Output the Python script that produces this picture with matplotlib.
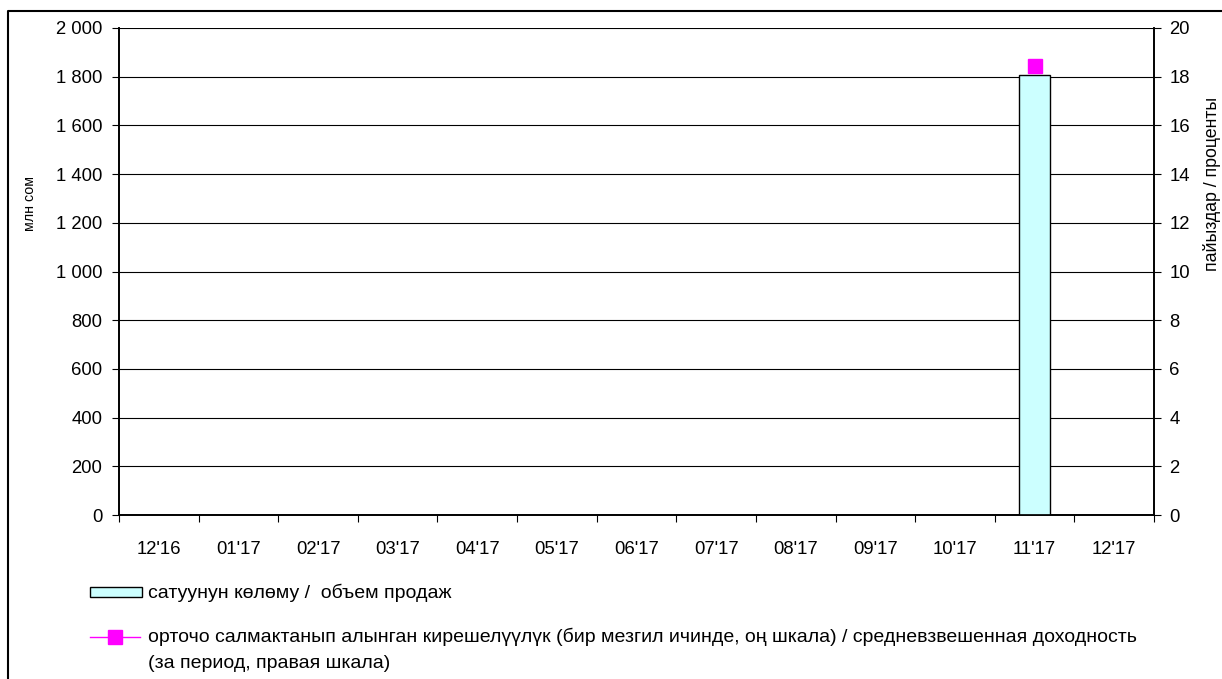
import matplotlib
matplotlib.use("Agg")
import matplotlib.pyplot as plt
import numpy as np
from matplotlib.lines import Line2D
from matplotlib.patches import Rectangle
from matplotlib.ticker import FuncFormatter, FixedLocator

plt.rcParams['font.family'] = ['Liberation Sans', 'DejaVu Sans']

# данные
months = ["12'16", "01'17", "02'17", "03'17", "04'17", "05'17", "06'17",
          "07'17", "08'17", "09'17", "10'17", "11'17", "12'17"]
sales = [0, 0, 0, 0, 0, 0, 0, 0, 0, 0, 0, 1805, 0]
yield_pct = [np.nan] * 11 + [18.45, np.nan]

lbl_bar = "сатуунун көлөму /  объем продаж"
lbl_line = ("орточо салмактанып алынган кирешелүүлүк (бир мезгил ичинде, оң шкала) / "
            "средневзвешенная доходность\n(за период, правая шкала)")

W, H = 1222, 679
fs = 13.3
fig = plt.figure(figsize=(W / 100, H / 100), dpi=100)
ax = fig.add_axes([119 / W, 1 - 515 / H, (1154 - 119) / W, (515 - 28) / H])
ax2 = ax.twinx()

x = np.arange(len(months))
ax.bar(x, sales, width=0.39, color='#CCFFFF', edgecolor='black', linewidth=1, zorder=3)
ax2.plot(x, yield_pct, color='#FF00FF', marker='s', markersize=9.5, linewidth=1, zorder=4)

ax.set_xlim(-0.5, len(months) - 0.5)
ax.set_ylim(0, 2000)
ax2.set_ylim(0, 20)
ax.set_yticks(np.arange(0, 2001, 200))
ax2.set_yticks(np.arange(0, 21, 2))
ax.yaxis.set_major_formatter(FuncFormatter(lambda v, p: f"{int(v):,}".replace(",", " ")))
ax.grid(axis='y', color='black', linewidth=0.8, zorder=0)
ax.set_axisbelow(True)

ax.set_xticks(x)
ax.set_xticklabels(months)
ax.xaxis.set_minor_locator(FixedLocator(np.arange(-0.5, len(months), 1)))
ax.tick_params(axis='x', which='major', length=0, pad=19, labelsize=fs)
ax.tick_params(axis='x', which='minor', length=5, width=0.8, direction='out')
ax.tick_params(axis='y', length=5, width=0.8, direction='out', pad=7, labelsize=fs)
ax2.tick_params(axis='y', length=5, width=0.8, direction='out', pad=6, labelsize=fs)

for a in (ax, ax2):
    a.spines['top'].set_visible(False)
    for s in ('left', 'right', 'bottom'):
        a.spines[s].set_linewidth(1.2)

fig.text(30 / W, 1 - 203 / H, "млн сом", rotation=90, ha='center', va='center', fontsize=10.3)
fig.text(1212 / W, 1 - 184 / H, "пайыздар / проценты", rotation=90, ha='center', va='center', fontsize=12.8)

# легенда
fig.patches.append(Rectangle((90 / W, 1 - 597 / H), 52 / W, 10 / H, transform=fig.transFigure,
                             facecolor='#CCFFFF', edgecolor='black', linewidth=1))
fig.text(148 / W, 1 - 593 / H, lbl_bar, ha='left', va='center', fontsize=14)
fig.lines.append(Line2D([90 / W, 140 / W], [1 - 637 / H, 1 - 637 / H], transform=fig.transFigure,
                        color='#FF00FF', linewidth=1))
fig.lines.append(Line2D([115 / W], [1 - 637 / H], transform=fig.transFigure, color='#FF00FF',
                        marker='s', markersize=9.5, linestyle='none'))
fig.text(148 / W, 1 - 628 / H, lbl_line, ha='left', va='top', fontsize=14, linespacing=1.65)

# рамка
fig.lines.append(Line2D([8 / W, 8 / W, 1], [0, 1 - 11 / H, 1 - 11 / H], transform=fig.transFigure,
                        color='black', linewidth=1.5))

fig.savefig("out.png", dpi=100)
